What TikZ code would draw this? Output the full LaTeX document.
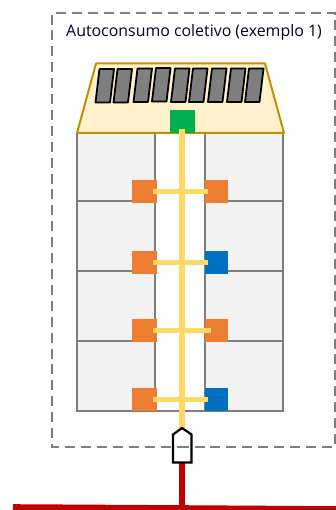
\documentclass[tikz,border=0pt]{standalone}
\usepackage{fontspec}
\setmainfont{Open Sans}
\definecolor{dashgrey}{HTML}{7F7F7F}
\definecolor{floorfill}{HTML}{F2F2F2}
\definecolor{roofill}{HTML}{FFF2CC}
\definecolor{roofline}{HTML}{BF9000}
\definecolor{orangeb}{HTML}{ED7D31}
\definecolor{blueb}{HTML}{0070C0}
\definecolor{greenb}{HTML}{00B050}
\definecolor{yellowl}{HTML}{FFD966}
\definecolor{redl}{HTML}{C00000}
\definecolor{panelfill}{HTML}{7F7F7F}
\tikzset{
  boxnode/.style={minimum width=#1,minimum height=23pt,inner sep=0pt,outer sep=0pt,anchor=north west},
  flat/.style={line width=2.5pt,dashgrey,fill=floorfill},
  feed/.style={line width=5.6pt,yellowl},
  branch/.style={line width=5.4pt,yellowl},
  grid/.style={line width=5.6pt,redl},
  panelbox/.style={draw=black,line width=1.8pt,fill=panelfill,line join=round},
}
\newcommand{\panelat}[2]{\draw[panelbox] (#1,69+#2) -- ++(14.5,0) -- ++(-4,33.5) -- ++(-14.5,0) -- cycle;}
\begin{document}
\begin{tikzpicture}[x=1pt,y=-1pt]
\useasboundingbox (0,0) rectangle (336,510);
\draw[dashgrey,line width=2pt,dash pattern=on 10pt off 5.9pt] (178.6,446.5) -- (335,446.5) -- (335,13) -- (52,13) -- (52,446.5) -- (178.6,446.5);
\node[anchor=west,inner sep=0pt,font=\fontsize{15.9pt}{18pt}\selectfont,text=black!80!blue] (title) at (66,32.5) {Autoconsumo coletivo (exemplo 1)};
% building
\foreach \y in {133,201,271,341}{
  \pgfmathsetmacro{\yy}{\y==133 ? 201 : (\y==201 ? 271 : (\y==271 ? 341 : 411))}
  \draw[flat] (77,\y) rectangle (155,\yy);
  \draw[flat] (205,\y) rectangle (283,\yy);
}
\draw[dashgrey,line width=2.5pt] (155,411) -- (205,411);
% roof
\draw[roofline,fill=roofill,line width=2pt,line join=round] (77,133) -- (96,63.5) -- (265,63.5) -- (284,133) -- cycle;
\panelat{99.5}{0}
\panelat{117.5}{0}
\panelat{137.5}{-0.5}
\panelat{156}{-1}
\panelat{175}{-0.5}
\panelat{193}{-0.5}
\panelat{212}{-0.5}
\panelat{231}{-0.5}
\panelat{249}{-0.5}
% equipment
\node[boxnode=25pt,fill=greenb] (inv) at (170,110) {};
\node[boxnode=25pt,fill=orangeb] (l1) at (132,180) {};
\node[boxnode=23pt,fill=orangeb] (r1) at (205,180) {};
\node[boxnode=25pt,fill=orangeb] (l2) at (132,251) {};
\node[boxnode=23pt,fill=blueb] (r2) at (205,251) {};
\node[boxnode=25pt,fill=orangeb] (l3) at (132,319) {};
\node[boxnode=23pt,fill=orangeb] (r3) at (205,319) {};
\node[boxnode=25pt,fill=orangeb] (l4) at (132,388) {};
\node[boxnode=23pt,fill=blueb] (r4) at (205,388) {};
% meter
\coordinate (mtop) at (182,428);
\coordinate (mbot) at (182,463);
\coordinate (gridl) at (13,507);
\coordinate (gridr) at (336,509);
\coordinate (gridj) at (182,508);
% connectors
\draw[feed] (182,129) -- (mtop);
\draw[branch] ([xshift=-4pt]l1.east) -- ([xshift=3pt]r1.west);
\draw[branch] ([xshift=-4pt]l2.east) -- ([xshift=3pt]r2.west);
\draw[branch] ([xshift=-4pt]l3.east) -- ([xshift=6pt]r3.west);
\draw[branch] ([xshift=-4pt]l4.east) -- ([xshift=3pt]r4.west);
\draw[grid] (mbot) -- (gridj);
\draw[grid] (gridl) -- (gridj) -- (gridr);
\draw[black,line width=2.2pt,line join=miter] (mtop) -- (191.5,434.5) -- (191.5,462.5) -- (173,462.5) -- (173,434.5) -- cycle;
\end{tikzpicture}
\end{document}
